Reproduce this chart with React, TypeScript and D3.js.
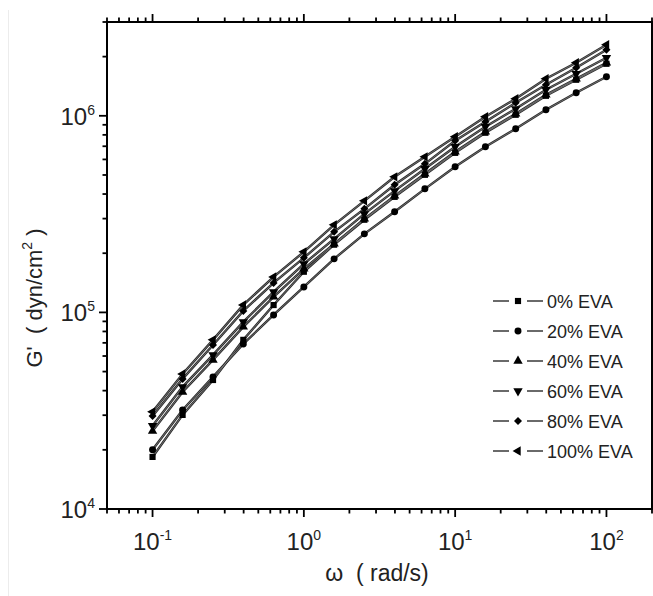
import React from "react";
import * as d3 from "d3";

const omega = [0.1, 0.158, 0.251, 0.398, 0.631, 1, 1.585, 2.512, 3.981, 6.31, 10, 15.85, 25.12, 39.81, 63.1, 100];
const eva0 = [1.84e4, 3.01e4, 4.53e4, 7.25e4, 1.09e5, 1.61e5, 2.21e5, 2.96e5, 3.87e5, 5.01e5, 6.48e5, 8.2e5, 1.012e6, 1.264e6, 1.525e6, 1.839e6];
const eva20 = [2.0e4, 3.19e4, 4.7e4, 6.91e4, 9.71e4, 1.348e5, 1.872e5, 2.509e5, 3.247e5, 4.251e5, 5.502e5, 6.954e5, 8.587e5, 1.073e6, 1.309e6, 1.579e6];
const eva40 = [2.49e4, 3.94e4, 5.73e4, 8.44e4, 1.199e5, 1.665e5, 2.232e5, 2.991e5, 3.916e5, 5.068e5, 6.558e5, 8.292e5, 1.024e6, 1.279e6, 1.543e6, 1.861e6];
const eva60 = [2.65e4, 4.18e4, 6.08e4, 8.95e4, 1.271e5, 1.765e5, 2.366e5, 3.171e5, 4.153e5, 5.374e5, 6.954e5, 8.79e5, 1.085e6, 1.356e6, 1.636e6, 1.974e6];
const eva80 = [2.97e4, 4.59e4, 6.83e4, 1.018e5, 1.413e5, 1.894e5, 2.569e5, 3.363e5, 4.456e5, 5.697e5, 7.463e5, 9.322e5, 1.165e6, 1.438e6, 1.755e6, 2.168e6];
const eva100 = [3.12e4, 4.86e4, 7.25e4, 1.092e5, 1.516e5, 2.032e5, 2.788e5, 3.693e5, 4.894e5, 6.184e5, 7.82e5, 9.883e5, 1.221e6, 1.543e6, 1.861e6, 2.298e6];

const seriesNames = ["0% EVA", "20% EVA", "40% EVA", "60% EVA", "80% EVA", "100% EVA"];
const seriesValues = [eva0, eva20, eva40, eva60, eva80, eva100];
const seriesMarkers = ["square", "circle", "up", "down", "diamond", "left"];

const xTickExps = [-1, 0, 1, 2];
const yTickExps = [4, 5, 6];

const FONT = "'Liberation Sans', Arial, Helvetica, sans-serif";

function markerPath(kind: string): { d: string; rot: number } {
  switch (kind) {
    case "square":
      return { d: d3.symbol(d3.symbolSquare, 38)() as string, rot: 0 };
    case "circle":
      return { d: d3.symbol(d3.symbolCircle, 38)() as string, rot: 0 };
    case "up":
      return { d: d3.symbol(d3.symbolTriangle, 38)() as string, rot: 0 };
    case "down":
      return { d: d3.symbol(d3.symbolTriangle, 38)() as string, rot: 180 };
    case "left":
      return { d: d3.symbol(d3.symbolTriangle, 38)() as string, rot: -90 };
    case "diamond":
    default:
      return { d: d3.symbol(d3.symbolSquare, 32)() as string, rot: 45 };
  }
}

export default function App() {
  const L = 107, R = 652, T = 22, B = 509;
  const x = d3.scaleLog().domain([0.05, 200]).range([L, R]);
  const y = d3.scaleLog().domain([1e4, 3e6]).range([B, T]);
  const xTicks = x.ticks();
  const yTicks = y.ticks();
  const isMajor = (v: number) => Math.abs(Math.log10(v) - Math.round(Math.log10(v))) < 1e-6;
  const line = d3
    .line<number>()
    .x((_, i) => x(omega[i]))
    .y((d) => y(d));

  const legendY0 = 301;
  const legendStep = 30;

  return (
    <svg
      width={653}
      height={596}
      style={{ position: "absolute", left: 0, top: 0, display: "block", background: "#fff" }}
      fontFamily={FONT}
    >
      <rect x={0} y={0} width={653} height={596} fill="#fff" />
      <line x1={8.5} x2={8.5} y1={10} y2={596} stroke="#ececec" strokeWidth={1} />

      {/* series lines (rail look) */}
      {seriesValues.map((vals, si) => (
        <path key={"l" + si} d={line(vals) as string} fill="none" stroke="#2a2a2a" strokeWidth={2.4} />
      ))}
      {seriesValues.map((vals, si) => (
        <path key={"li" + si} d={line(vals) as string} fill="none" stroke="#8a8a8a" strokeWidth={0.7} />
      ))}
      {seriesValues.map((vals, si) => {
        const m = markerPath(seriesMarkers[si]);
        return (
          <g key={"m" + si}>
            {vals.map((v, i) => (
              <path
                key={i}
                d={m.d}
                fill="#000"
                transform={`translate(${x(omega[i])},${y(v)}) rotate(${m.rot})`}
              />
            ))}
          </g>
        );
      })}

      {/* frame */}
      <rect x={L} y={T} width={R - L} height={B - T} fill="none" stroke="#000" strokeWidth={2} />

      {/* ticks */}
      {xTicks.map((t, i) => {
        const len = isMajor(t) ? 8 : 4.5;
        const px = x(t);
        return (
          <g key={"xt" + i}>
            <line x1={px} x2={px} y1={B} y2={B + len} stroke="#000" strokeWidth={1.8} />
            <line x1={px} x2={px} y1={T} y2={T - len} stroke="#000" strokeWidth={1.8} />
          </g>
        );
      })}
      {yTicks.map((t, i) => {
        const len = isMajor(t) ? 8 : 4.5;
        const py = y(t);
        return (
          <g key={"yt" + i}>
            <line x1={L} x2={L - len} y1={py} y2={py} stroke="#000" strokeWidth={1.8} />
            <line x1={R} x2={R + len} y1={py} y2={py} stroke="#000" strokeWidth={1.8} />
          </g>
        );
      })}

      {/* x tick labels */}
      {xTickExps.map((e) => (
        <text key={"xl" + e} x={x(Math.pow(10, e))} y={550} textAnchor="middle" fontSize={24} fill="#222">
          10
          <tspan dy={-10} fontSize={14}>{String(e)}</tspan>
        </text>
      ))}
      {/* y tick labels */}
      {yTickExps.map((e) => (
        <text key={"yl" + e} x={95} y={y(Math.pow(10, e)) + 9} textAnchor="end" fontSize={24} fill="#222">
          10
          <tspan dy={-10} fontSize={14}>{String(e)}</tspan>
        </text>
      ))}

      {/* axis titles */}
      <text x={377} y={581} textAnchor="middle" fontSize={23} fill="#222" style={{ whiteSpace: "pre" }}>
        {"\u03c9  ( rad/s)"}
      </text>
      <text
        transform="translate(42,298) rotate(-90)"
        textAnchor="middle"
        fontSize={22}
        fill="#222"
        style={{ whiteSpace: "pre" }}
      >
        {"G'  ( dyn/cm"}
        <tspan dy={-10} fontSize={14}>2</tspan>
        <tspan dy={10}>{" )"}</tspan>
      </text>

      {/* legend */}
      {seriesNames.map((name, si) => {
        const ly = legendY0 + si * legendStep;
        const m = markerPath(seriesMarkers[si]);
        return (
          <g key={"lg" + si}>
            <line x1={493} x2={509} y1={ly} y2={ly} stroke="#444" strokeWidth={1.6} />
            <line x1={527} x2={543} y1={ly} y2={ly} stroke="#444" strokeWidth={1.6} />
            <path d={m.d} fill="#000" transform={`translate(518,${ly}) rotate(${m.rot})`} />
            <text x={547} y={ly + 6.5} fontSize={18} fill="#222">
              {name}
            </text>
          </g>
        );
      })}
    </svg>
  );
}
